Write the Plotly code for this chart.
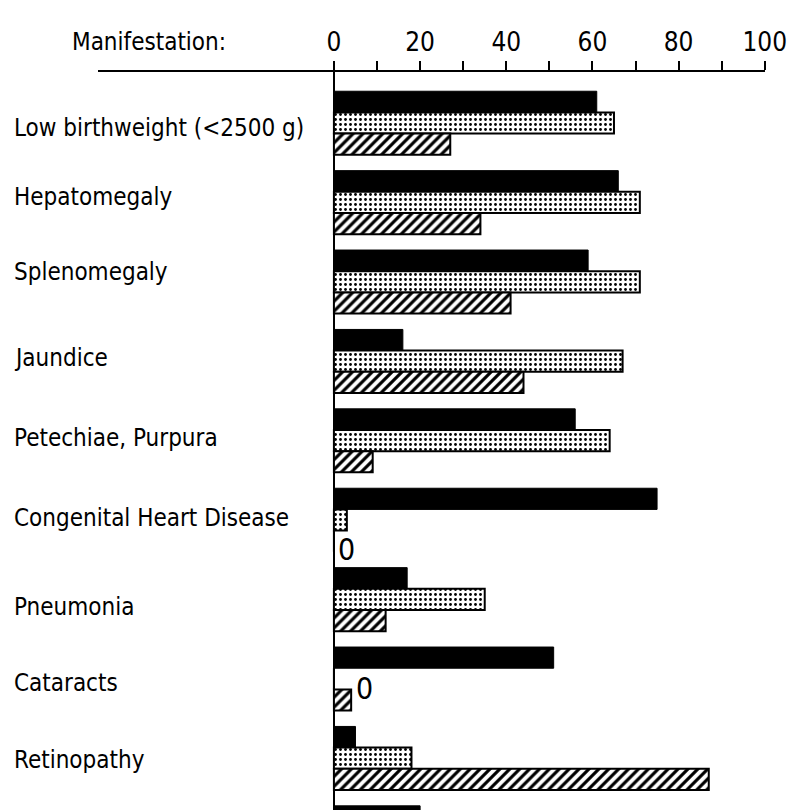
import plotly.graph_objects as go

categories = [
    "Low birthweight (<2500 g)",
    "Hepatomegaly",
    "Splenomegaly",
    "Jaundice",
    "Petechiae, Purpura",
    "Congenital Heart Disease",
    "Pneumonia",
    "Cataracts",
    "Retinopathy",
    "Microcephaly",
]
series_black = [61, 66, 59, 16, 56, 75, 17, 51, 5, 20]
series_dotted = [65, 71, 71, 67, 64, 3, 35, 0, 18, None]
series_hatched = [27, 34, 41, 44, 9, 0, 12, 4, 87, None]
tick_vals = [0, 10, 20, 30, 40, 50, 60, 70, 80, 90, 100]
tick_text = ["0", "", "20", "", "40", "", "60", "", "80", "", "100"]

FONT = "Liberation Sans Narrow, DejaVu Sans Condensed, Arial Narrow, sans-serif"

W, H = 787, 810
ML, MR, MT, MB = 98, 22, 72, 0
pw = W - ML - MR
ph = H - MT - MB
x_unit = 4.31
row = 79.4
x0 = -(334 - ML) / x_unit
r_top = -(123 - MT) / row
r_bot = r_top + ph / row

# small vertical nudges of the left-hand labels (px, positive = up)
label_yshift = [-5, 5, 10, 3, 3, 2, -8, -4, -2, 0]

fig = go.Figure()
fig.add_bar(
    y=categories, x=series_black, orientation="h", name="black",
    marker=dict(color="black", line=dict(color="black", width=1)),
)
fig.add_bar(
    y=categories, x=series_dotted, orientation="h", name="dotted",
    marker=dict(color="white", line=dict(color="black", width=2),
                pattern=dict(shape=".", fgcolor="black", bgcolor="white",
                             fgopacity=1, size=5, solidity=0.25,
                             fillmode="overlay")),
)
fig.add_bar(
    y=categories, x=series_hatched, orientation="h", name="hatched",
    marker=dict(color="white", line=dict(color="black", width=2),
                pattern=dict(shape="/", fgcolor="black", bgcolor="white",
                             fgopacity=1, size=7, solidity=0.45,
                             fillmode="overlay")),
)

annotations = []
# category labels, left aligned
for c, dy in zip(categories, label_yshift):
    annotations.append(dict(
        text=c, xref="paper", x=(12 - ML) / pw, xanchor="left",
        yref="y", y=c, yanchor="middle", showarrow=False, yshift=dy,
        font=dict(family=FONT, size=24, color="black"),
    ))
# zero-value labels
zero_shift = {
    ("Congenital Heart Disease", "hatched"): (2, -8),
    ("Cataracts", "dotted"): (20, -10),
}
series_rows = {"black": -1, "dotted": 0, "hatched": 1}
for name, vals in (("black", series_black), ("dotted", series_dotted), ("hatched", series_hatched)):
    for c, v in zip(categories, vals):
        if v == 0:
            dx, dy = zero_shift.get((c, name), (4, 0))
            annotations.append(dict(
                text="0", xref="x", x=v, xanchor="left", yref="y", y=c,
                yanchor="middle", showarrow=False, xshift=dx,
                yshift=-series_rows[name] * 21 + dy,
                font=dict(family=FONT, size=30, color="black"),
            ))
annotations.append(dict(
    text="Manifestation:", xref="paper", x=(70 - ML) / pw, xanchor="left",
    yref="paper", y=1 + (MT - 42) / ph, yanchor="middle", showarrow=False,
    font=dict(family=FONT, size=24, color="black"),
))

fig.update_layout(
    width=W, height=H,
    margin=dict(l=ML, r=MR, t=MT, b=MB, pad=0),
    paper_bgcolor="white", plot_bgcolor="white",
    barmode="group", bargap=0.2, bargroupgap=0,
    showlegend=False,
    annotations=annotations,
    font=dict(family=FONT, color="black"),
)
fig.update_xaxes(
    side="top", range=[x0, 100.05], tickmode="array",
    tickvals=tick_vals, ticktext=tick_text,
    ticks="outside", ticklen=9, tickwidth=2, tickcolor="black",
    showline=True, linecolor="black", linewidth=2,
    showgrid=False, zeroline=True, zerolinecolor="black", zerolinewidth=2,
    ticklabeloverflow="allow",
    tickfont=dict(family=FONT, size=26, color="black"),
)
fig.update_yaxes(
    type="category", range=[r_bot, r_top], showticklabels=False,
    showgrid=False, zeroline=False, showline=False, ticks="",
)
fig.write_html(
    "out.html",
    config={"displayModeBar": False},
    post_script="document.body.style.margin='0';document.body.style.overflow='hidden';",
)
